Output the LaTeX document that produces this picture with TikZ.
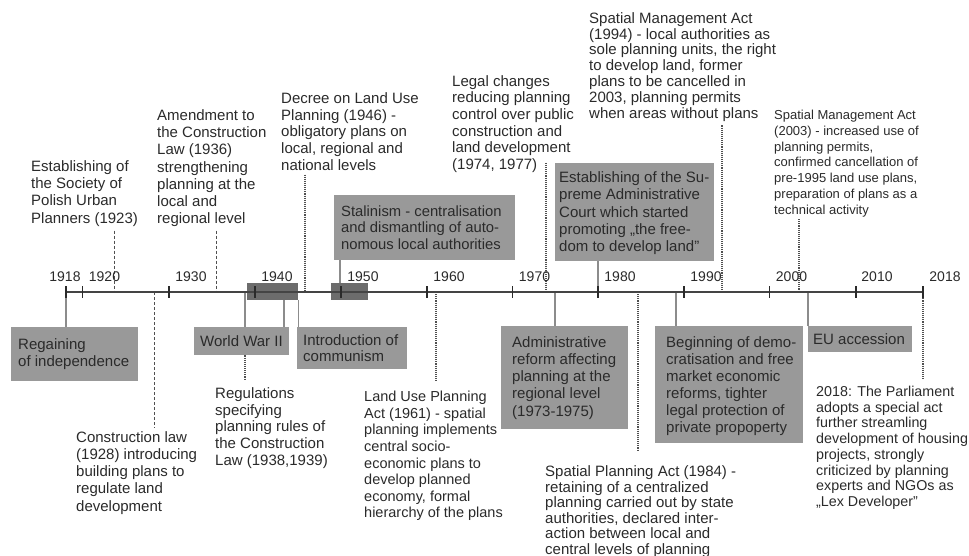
\documentclass[tikz,border=0pt]{standalone}
\usepackage{fontspec}
\setmainfont{Liberation Sans}
\usetikzlibrary{calc}
\definecolor{boxgray}{HTML}{999999}
\definecolor{perfill}{HTML}{6C6C6C}
\definecolor{txtgray}{HTML}{2A2A2A}
\definecolor{leadgray}{HTML}{8C8C8C}
\definecolor{dotgray}{HTML}{505050}
\definecolor{axisgray}{HTML}{444444}
\begin{document}
\begin{tikzpicture}[x=1pt, y=-1pt,
  lbl/.style={anchor=north west, align=left, inner sep=0pt, text=txtgray, font=\fontsize{15}{17}\selectfont},
  evbox/.style={anchor=north west, fill=boxgray, inner sep=0pt},
  boxtxt/.style={anchor=west, align=left, inner sep=0pt, text=txtgray, font=\fontsize{15}{17}\selectfont},
  period/.style={anchor=north west, fill=perfill, inner sep=0pt},
  lead/.style={draw=leadgray, line width=1.4pt},
  dashlead/.style={draw=dotgray, densely dashed, line width=0.7pt},
  dotlead/.style={draw=dotgray, densely dotted, line width=1.1pt},
  yr/.style={anchor=base, inner sep=0pt, text=txtgray, font=\fontsize{14}{16}\selectfont}]
\useasboundingbox (0,0) rectangle (969,556);
\node[period, minimum width=51pt, minimum height=17pt] (war) at (247,283) {};
\node[period, minimum width=37pt, minimum height=17pt] (stal) at (331,283) {};
\foreach \name/\px in {e1918/66,e1923/114,e1928/154,e1936/216,e1937/245,e1941/284,e1946/305,e1949/340,e1961/436,e1973/555,e1974/546,e1980/598,e1984/638,e1989/676,e1994/722,e2003/799,e2004/808,e2018/923}
  \coordinate (\name) at (\px,292);

\node[lbl, font=\fontsize{15}{17.4}\selectfont] (soc) at (31,160) {Establishing of\\the Society of\\Polish Urban\\Planners (1923)};
\node[lbl, font=\fontsize{15}{17.1}\selectfont] (amend) at (157,109.7) {Amendment to\\the Construction\\Law (1936)\\strengthening\\planning at the\\local and\\regional level};
\node[lbl, font=\fontsize{15}{16.7}\selectfont] (decree) at (281,92.3) {Decree on Land Use\\Planning (1946) -\\obligatory plans on\\local, regional and\\national levels};
\node[lbl, font=\fontsize{15}{16.7}\selectfont] (legal) at (452,75) {Legal changes\\reducing planning\\control over public\\construction and\\land development\\(1974, 1977)};
\node[lbl, font=\fontsize{15}{15.8}\selectfont] (sma94) at (589,12.3) {Spatial Management Act\\(1994) - local authorities as\\sole planning units, the right\\to develop land, former\\plans to be cancelled in\\2003, planning permits\\when areas without plans};
\node[lbl, font=\fontsize{13}{15.8}\selectfont] (sma03) at (774,109.8) {Spatial Management Act\\(2003) - increased use of\\planning permits,\\confirmed cancellation of\\pre-1995 land use plans,\\preparation of plans as a\\technical activity};
\node[lbl, font=\fontsize{15}{17.2}\selectfont] (constr) at (76,431.3) {Construction law\\(1928) introducing\\building plans to\\regulate land\\development};
\node[lbl, font=\fontsize{15}{16.7}\selectfont] (regs) at (215,387.3) {Regulations\\specifying\\planning rules of\\the Construction\\Law (1938,1939)};
\node[lbl, font=\fontsize{14.5}{16.6}\selectfont] (landuse) at (364,390.9) {Land Use Planning\\Act (1961) - spatial\\planning implements\\central socio-\\economic plans to\\develop planned\\economy, formal\\hierarchy of the plans};
\node[lbl, font=\fontsize{15}{15.5}\selectfont] (spa84) at (545,465.7) {Spatial Planning Act (1984) -\\retaining of a centralized\\planning carried out by state\\authorities, declared inter-\\action between local and\\central levels of planning};
\node[lbl, font=\fontsize{14.3}{15.7}\selectfont] (parl) at (816,386) {2018: The Parliament\\adopts a special act\\further streamling\\development of housing\\projects, strongly\\criticized by planning\\experts and NGOs as\\„Lex Developer”};

\node[evbox, minimum width=127pt, minimum height=54pt] (regain) at (11,327) {};
\node[boxtxt, font=\fontsize{15}{16.6}\selectfont] (regainT) at ([xshift=7pt]regain.west) {Regaining\\of independence};
\node[evbox, minimum width=95pt, minimum height=28pt] (wwii) at (194,327) {};
\node[boxtxt] (wwiiT) at ([xshift=6pt]wwii.west) {World War II};
\node[evbox, minimum width=110pt, minimum height=42pt] (intro) at (297,327) {};
\node[boxtxt, font=\fontsize{15}{16.3}\selectfont] (introT) at ([xshift=6pt]intro.west) {Introduction of\\communism};
\node[evbox, minimum width=181pt, minimum height=65pt] (stalin) at (334,195) {};
\node[boxtxt, font=\fontsize{14.8}{16.3}\selectfont] (stalinT) at ([xshift=7pt]stalin.west) {Stalinism - centralisation\\and dismantling of auto-\\nomous local authorities};
\node[evbox, minimum width=159pt, minimum height=98pt] (court) at (555,163) {};
\node[boxtxt, font=\fontsize{15}{17.1}\selectfont] (courtT) at ([xshift=4pt, yshift=-1pt]court.west) {Establishing of the Su-\\preme Administrative\\Court which started\\promoting „the free-\\dom to develop land”};
\node[evbox, minimum width=127pt, minimum height=103pt] (admin) at (501,326) {};
\node[boxtxt, font=\fontsize{15}{17.25}\selectfont] (adminT) at ([xshift=11pt]admin.west) {Administrative\\reform affecting\\planning at the\\regional level\\(1973-1975)};
\node[evbox, minimum width=148pt, minimum height=117pt] (demo) at (655,326) {};
\node[boxtxt] (demoT) at ([xshift=11pt, yshift=-1pt]demo.west) {Beginning of demo-\\cratisation and free\\market economic\\reforms, tighter\\legal protection of\\private propoperty};
\node[evbox, minimum width=104pt, minimum height=26pt] (eu) at (808,326) {};
\node[boxtxt] (euT) at ([xshift=5pt]eu.west) {EU accession};

\draw[lead] (e1918) -- (regain.north -| e1918);
\draw[lead] (e1937) -- (wwii.north -| e1937);
\draw[lead] (war.south -| e1941) -- (wwii.north -| e1941);
\draw[lead] (war.south east) -- (war.south east |- intro.north);
\draw[lead] (stalin.south -| e1949) -- (stal.north -| e1949);
\draw[lead] (court.south -| e1980) -- (e1980);
\draw[lead] (e1973) -- (admin.north -| e1973);
\draw[lead] (e1989) -- (demo.north -| e1989);
\draw[lead] (e2004) -- (eu.north -| e2004);
\draw[dashlead] ($(soc.south -| e1923)+(0,4)$) -- (e1923);
\draw[dashlead] ($(amend.south -| e1936)+(0,4)$) -- (e1936);
\draw[dashlead] (e1928) -- ($(constr.north -| e1928)+(0,-4)$);
\draw[dotlead] ($(decree.south -| e1946)+(0,4)$) -- (e1946);
\draw[dotlead] ($(legal.south -| e1974)+(0,-10)$) -- (e1974);
\draw[dotlead] ($(sma94.south -| e1994)+(0,4)$) -- (e1994);
\draw[dotlead] ($(sma03.south -| e2003)+(0,2)$) -- (e2003);
\draw[dotlead] (wwii.south -| e1937) -- ($(regs.north -| e1937)+(0,-7)$);
\draw[dotlead] (e1961) -- ($(landuse.north -| e1961)+(0,-10)$);
\draw[dotlead] (e1984) -- ($(spa84.north -| e1984)+(0,-15)$);
\draw[dotlead] (e2018) -- ($(parl.north -| e2018)+(0,-7)$);

\draw[axisgray, line width=2.2pt] (e1918) -- (e2018);
\foreach \yr/\px/\dx in {1918/66/-1,1920/82.5/22,1930/169/22,1940/255/22,1950/341/22,1960/427/22,1970/512.5/22,1980/598/22,1990/684/22,2000/769.5/22,2010/856/21,2018/923/22}{
  \draw[txtgray, line width=1.8pt] (\px,286) -- (\px,298);
  \node[yr] (y\yr) at (\px+\dx,281) {\yr};
}
\end{tikzpicture}
\end{document}
